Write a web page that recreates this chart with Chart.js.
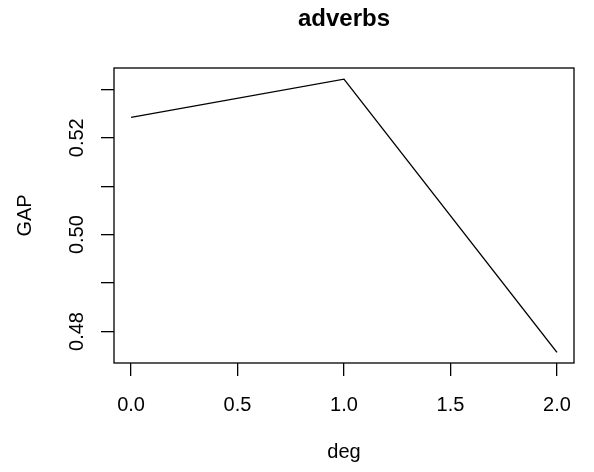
<!DOCTYPE html>
<html>
<head>
<meta charset="utf-8">
<script src="https://cdn.jsdelivr.net/npm/chart.js@4"></script>
<style>
  html, body { margin: 0; padding: 0; background: #fff; }
  #wrap { width: 594px; height: 472px; }
</style>
</head>
<body>
<div id="wrap"><canvas id="gapChart" width="594" height="472"></canvas></div>
<script>
// Data
const degs = [0, 1, 2];
const gapValues = [0.5242, 0.5321, 0.4757];
const xTicks = [0, 0.5, 1, 1.5, 2];
const yTicks = [0.48, 0.49, 0.50, 0.51, 0.52, 0.53];
const yLabelled = [0.48, 0.50, 0.52];

const FONT = "'Liberation Sans', Arial, Helvetica, sans-serif";

// frame + titles, drawn like base R graphics
const framePlugin = {
    id: 'frame',
    afterDraw(chart) {
        const { ctx, chartArea: a } = chart;
        ctx.save();
        ctx.strokeStyle = '#000';
        ctx.lineWidth = 1.3;
        ctx.strokeRect(a.left, a.top, a.right - a.left, a.bottom - a.top);

        ctx.fillStyle = '#000';
        ctx.textAlign = 'center';
        ctx.textBaseline = 'middle';
        const cx = (a.left + a.right) / 2;
        ctx.font = 'bold 24px ' + FONT;
        ctx.fillText('adverbs', cx, 19);
        ctx.font = '20px ' + FONT;
        ctx.fillText('deg', cx, 452);
        ctx.translate(25, (a.top + a.bottom) / 2);
        ctx.rotate(-Math.PI / 2);
        ctx.fillText('GAP', 0, 0);
        ctx.restore();
    }
};

new Chart(document.getElementById('gapChart'), {
    type: 'line',
    data: {
        datasets: [{
            data: degs.map((d, i) => ({ x: d, y: gapValues[i] })),
            borderColor: '#000',
            borderWidth: 1.4,
            pointRadius: 0,
            tension: 0,
            fill: false
        }]
    },
    options: {
        responsive: false,
        animation: false,
        layout: { padding: { left: 0, right: 20, top: 68, bottom: 0 } },
        plugins: {
            legend: { display: false },
            tooltip: { enabled: false }
        },
        scales: {
            x: {
                type: 'linear',
                min: -0.08,
                max: 2.08,
                afterBuildTicks: scale => { scale.ticks = xTicks.map(v => ({ value: v })); },
                afterFit: scale => { scale.height = 109; },
                grid: { drawOnChartArea: false, drawTicks: true, tickLength: 13, color: '#000', lineWidth: 1.3 },
                border: { display: false },
                ticks: {
                    color: '#000',
                    font: { family: FONT, size: 20 },
                    padding: 17,
                    maxRotation: 0,
                    callback: v => v.toFixed(1)
                }
            },
            y: {
                type: 'linear',
                min: 0.4735,
                max: 0.5344,
                afterBuildTicks: scale => { scale.ticks = yTicks.map(v => ({ value: v })); },
                afterFit: scale => { scale.width = 114; },
                grid: { drawOnChartArea: false, drawTicks: true, tickLength: 13, color: '#000', lineWidth: 1.3 },
                border: { display: false },
                ticks: {
                    color: '#000',
                    font: { family: FONT, size: 20 },
                    padding: 4,
                    crossAlign: 'center',
                    minRotation: 90,
                    maxRotation: 90,
                    callback: v => yLabelled.some(t => Math.abs(t - v) < 1e-6) ? v.toFixed(2) : ''
                }
            }
        }
    },
    plugins: [framePlugin]
});
</script>
</body>
</html>
